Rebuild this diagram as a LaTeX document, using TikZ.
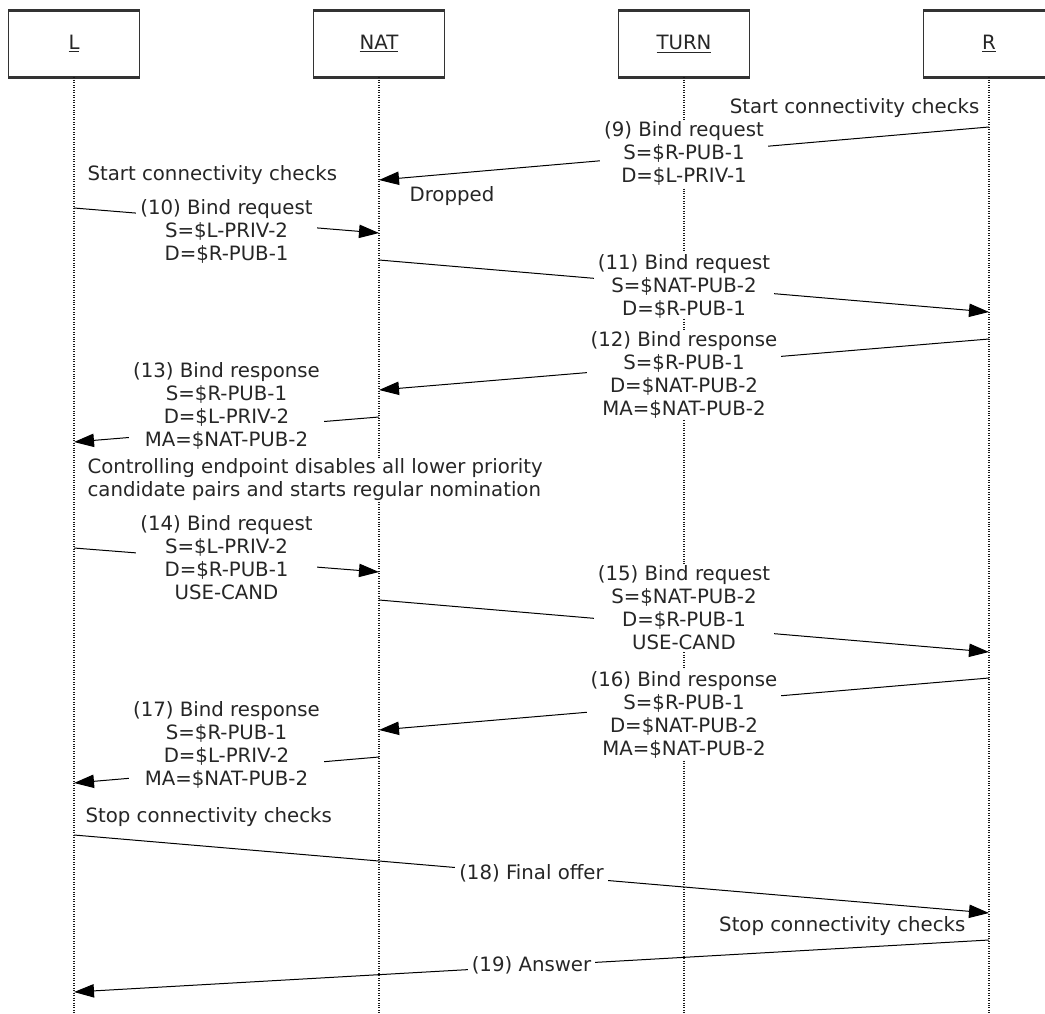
\documentclass[tikz,border=0pt]{standalone}
\usepackage{fontspec}
\setmainfont{DejaVu Sans}
\usetikzlibrary{calc}
\usetikzlibrary{arrows.meta}

\newcommand{\diagfont}{\fontsize{14.8pt}{17.25pt}\selectfont}

\begin{document}
\begin{tikzpicture}[x=0.75pt,y=-0.75pt]

\colorlet{linecolor}{black!80}
\colorlet{textcolor}{black!85}

\tikzset{
  actor/.style={draw=linecolor, line width=0.75pt, minimum width=98.25pt, minimum height=49.5pt, inner sep=0pt, font=\diagfont, text=textcolor},
  actoredge/.style={draw=linecolor, line width=1.6pt},
  lifeline/.style={draw=black!90, line width=0.8pt, dash pattern=on 0.75pt off 1.1pt},
  msgarrow/.style={draw=black, line width=0.75pt, -{Triangle[length=15pt,width=10pt]}},
  msglabel/.style={fill=white, align=center, inner xsep=3pt, inner ysep=1pt, font=\diagfont, text=textcolor},
  note/.style={fill=white, align=left, inner sep=1pt, font=\diagfont, text=textcolor}
}

\def\xL{74}
\def\xNAT{379}
\def\xTURN{684}
\def\xR{989}
\def\ybox{44}
\def\yend{1013}

\useasboundingbox (0,0) rectangle (1045,1013);
\clip (0,0) rectangle (1045,1013);

% DRAW THE PARTICIPANTS
\node[actor] (Lbox) at (\xL,\ybox) {\underline{L}};
\node[actor] (NATbox) at (\xNAT,\ybox) {\underline{NAT}};
\node[actor] (TURNbox) at (\xTURN,\ybox) {\underline{TURN}};
\node[actor] (Rbox) at (\xR,\ybox) {\underline{R}};

\draw[actoredge] (Lbox.north west) -- (Lbox.north east);
\draw[actoredge] (Lbox.south west) -- (Lbox.south east);
\draw[actoredge] (NATbox.north west) -- (NATbox.north east);
\draw[actoredge] (NATbox.south west) -- (NATbox.south east);
\draw[actoredge] (TURNbox.north west) -- (TURNbox.north east);
\draw[actoredge] (TURNbox.south west) -- (TURNbox.south east);
\draw[actoredge] (Rbox.north west) -- (Rbox.north east);
\draw[actoredge] (Rbox.south west) -- (Rbox.south east);

% DRAW THE LIFELINES
\coordinate (Lend) at (\xL,\yend);
\coordinate (NATend) at (\xNAT,\yend);
\coordinate (TURNend) at (\xTURN,\yend);
\coordinate (Rend) at (\xR,\yend);
\draw[lifeline] (Lbox.south) -- (Lend);
\draw[lifeline] (NATbox.south) -- (NATend);
\draw[lifeline] (TURNbox.south) -- (TURNend);
\draw[lifeline] (Rbox.south) -- (Rend);

% START OF THE CHECKS
\node[note, anchor=east] (startR) at (981,108) {Start connectivity checks};

% (9) BIND REQUEST, DROPPED AT THE NAT
\coordinate (m9a) at (\xR,127);
\coordinate (m9b) at (\xNAT,180);
\draw[msgarrow] (m9a) -- (m9b);
\node[msglabel] (m9text) at ($(m9a)!0.5!(m9b)$) {(9) Bind request\\S=\$R-PUB-1\\D=\$L-PRIV-1};
\node[note, anchor=west] (dropped) at (408,196) {Dropped};

\node[note, anchor=west] (startL) at (86,175) {Start connectivity checks};

% (10) BIND REQUEST
\coordinate (m10a) at (\xL,208);
\coordinate (m10b) at (\xNAT,233);
\draw[msgarrow] (m10a) -- (m10b);
\node[msglabel] (m10text) at ($(m10a)!0.5!(m10b)+(0,10.5)$) {(10) Bind request\\S=\$L-PRIV-2\\D=\$R-PUB-1};

% (11) BIND REQUEST
\coordinate (m11a) at (\xNAT,260);
\coordinate (m11b) at (\xR,312);
\draw[msgarrow] (m11a) -- (m11b);
\node[msglabel] (m11text) at ($(m11a)!0.5!(m11b)$) {(11) Bind request\\S=\$NAT-PUB-2\\D=\$R-PUB-1};

% (12) BIND RESPONSE
\coordinate (m12a) at (\xR,339);
\coordinate (m12b) at (\xNAT,390);
\draw[msgarrow] (m12a) -- (m12b);
\node[msglabel] (m12text) at ($(m12a)!0.5!(m12b)+(0,10.5)$) {(12) Bind response\\S=\$R-PUB-1\\D=\$NAT-PUB-2\\MA=\$NAT-PUB-2};

% (13) BIND RESPONSE
\coordinate (m13a) at (\xNAT,417);
\coordinate (m13b) at (\xL,442);
\draw[msgarrow] (m13a) -- (m13b);
\node[msglabel] (m13text) at ($(m13a)!0.5!(m13b)+(0,-23.5)$) {(13) Bind response\\S=\$R-PUB-1\\D=\$L-PRIV-2\\MA=\$NAT-PUB-2};

\node[note, anchor=west] (control) at (86,480) {Controlling endpoint disables all lower priority\\candidate pairs and starts regular nomination};

% (14) BIND REQUEST
\coordinate (m14a) at (\xL,548);
\coordinate (m14b) at (\xNAT,572);
\draw[msgarrow] (m14a) -- (m14b);
\node[msglabel] (m14text) at ($(m14a)!0.5!(m14b)+(0,-2)$) {(14) Bind request\\S=\$L-PRIV-2\\D=\$R-PUB-1\\USE-CAND};

% (15) BIND REQUEST
\coordinate (m15a) at (\xNAT,600);
\coordinate (m15b) at (\xR,652);
\draw[msgarrow] (m15a) -- (m15b);
\node[msglabel] (m15text) at ($(m15a)!0.5!(m15b)+(0,-18)$) {(15) Bind request\\S=\$NAT-PUB-2\\D=\$R-PUB-1\\USE-CAND};

% (16) BIND RESPONSE
\coordinate (m16a) at (\xR,678);
\coordinate (m16b) at (\xNAT,730);
\draw[msgarrow] (m16a) -- (m16b);
\node[msglabel] (m16text) at ($(m16a)!0.5!(m16b)+(0,11)$) {(16) Bind response\\S=\$R-PUB-1\\D=\$NAT-PUB-2\\MA=\$NAT-PUB-2};

% (17) BIND RESPONSE
\coordinate (m17a) at (\xNAT,757);
\coordinate (m17b) at (\xL,783);
\draw[msgarrow] (m17a) -- (m17b);
\node[msglabel] (m17text) at ($(m17a)!0.5!(m17b)+(0,-25)$) {(17) Bind response\\S=\$R-PUB-1\\D=\$L-PRIV-2\\MA=\$NAT-PUB-2};

% END OF THE CHECKS
\node[note, anchor=west] (stopL) at (84,817) {Stop connectivity checks};

% (18) FINAL OFFER
\coordinate (m18a) at (\xL,835);
\coordinate (m18b) at (\xR,913);
\draw[msgarrow] (m18a) -- (m18b);
\node[msglabel] (m18text) at ($(m18a)!0.5!(m18b)+(0,-1)$) {(18) Final offer};

\node[note, anchor=east] (stopR) at (967,926) {Stop connectivity checks};

% (19) ANSWER
\coordinate (m19a) at (\xR,940);
\coordinate (m19b) at (\xL,992);
\draw[msgarrow] (m19a) -- (m19b);
\node[msglabel] (m19text) at ($(m19a)!0.5!(m19b)+(0,-1)$) {(19) Answer};

\end{tikzpicture}
\end{document}
